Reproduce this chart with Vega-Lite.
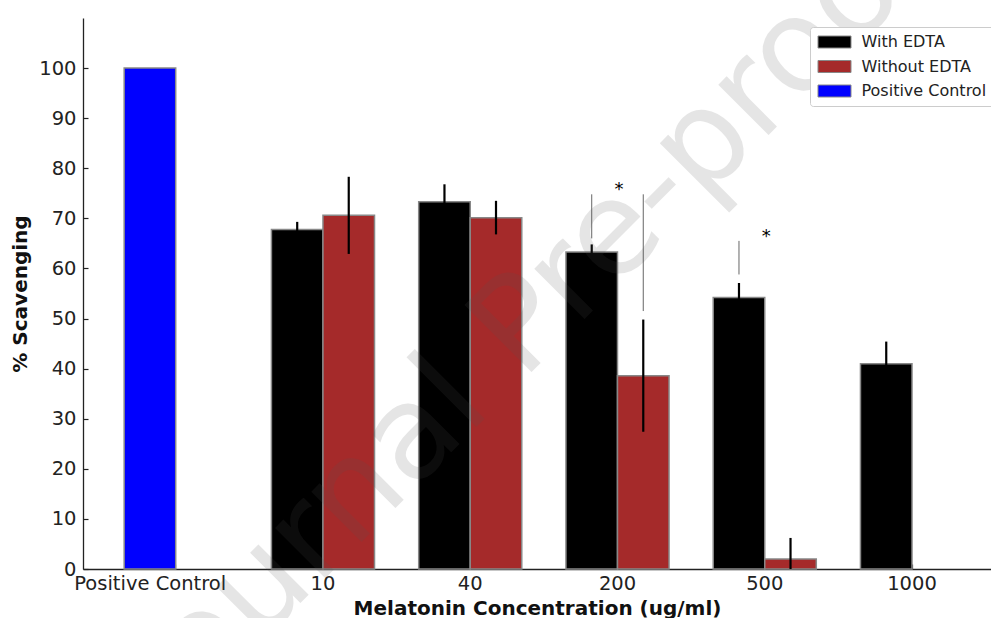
{
  "$schema": "https://vega.github.io/schema/vega-lite/v6.json",
  "width": 908,
  "height": 551,
  "autosize": {"type": "none"},
  "padding": {"left": 83, "top": 18, "right": 0, "bottom": 49},
  "background": "white",
  "config": {
    "view": {"stroke": null},
    "font": "DejaVu Sans",
    "axis": {
      "grid": false,
      "domainColor": "#222222",
      "domainWidth": 1.3,
      "tickColor": "#222222",
      "tickWidth": 1.2,
      "tickSize": -5,
      "labelFont": "DejaVu Sans",
      "labelFontSize": 19.5,
      "labelColor": "#222222",
      "titleFont": "DejaVu Sans",
      "titleFontSize": 20,
      "titleFontWeight": "bold",
      "titleColor": "#111111"
    },
    "axisY": {"labelPadding": 12, "titlePadding": 8},
    "axisX": {"labelAngle": 0, "labelPadding": 10, "titlePadding": 6},
    "legend": {
      "orient": "none",
      "legendX": 727,
      "legendY": 9,
      "title": null,
      "symbolType": "M-2.75,-1H2.75V1H-2.75Z",
      "symbolSize": 144,
      "symbolStrokeColor": "#888888",
      "symbolStrokeWidth": 1,
      "symbolOpacity": 1,
      "symbolOffset": 9.5,
      "labelFont": "DejaVu Sans",
      "labelFontSize": 16,
      "labelColor": "#222222",
      "labelOffset": 19,
      "strokeColor": "#cccccc",
      "fillColor": "white",
      "padding": 7,
      "cornerRadius": 3,
      "rowPadding": 8.5
    }
  },
  "datasets": {
    "bars": [
      {"conc": "10", "series": "With EDTA", "value": 67.8},
      {"conc": "10", "series": "Without EDTA", "value": 70.6},
      {"conc": "40", "series": "With EDTA", "value": 73.3},
      {"conc": "40", "series": "Without EDTA", "value": 70.1},
      {"conc": "200", "series": "With EDTA", "value": 63.3},
      {"conc": "200", "series": "Without EDTA", "value": 38.6},
      {"conc": "500", "series": "With EDTA", "value": 54.2},
      {"conc": "500", "series": "Without EDTA", "value": 2.0},
      {"conc": "1000", "series": "With EDTA", "value": 41.0}
    ],
    "control": [
      {"conc": "Positive Control", "series": "Positive Control", "value": 100}
    ],
    "errors": [
      {"conc": "10", "series": "With EDTA", "lo": 66.3, "hi": 69.3},
      {"conc": "10", "series": "Without EDTA", "lo": 62.9, "hi": 78.3},
      {"conc": "40", "series": "With EDTA", "lo": 69.8, "hi": 76.8},
      {"conc": "40", "series": "Without EDTA", "lo": 66.8, "hi": 73.5},
      {"conc": "200", "series": "With EDTA", "lo": 61.8, "hi": 64.8},
      {"conc": "200", "series": "Without EDTA", "lo": 27.4, "hi": 49.8},
      {"conc": "500", "series": "With EDTA", "lo": 51.3, "hi": 57.1},
      {"conc": "500", "series": "Without EDTA", "lo": -2.2, "hi": 6.2},
      {"conc": "1000", "series": "With EDTA", "lo": 36.6, "hi": 45.4}
    ],
    "brackets": [
      {"conc": "200", "series": "With EDTA", "lo": 66.0, "hi": 74.8},
      {"conc": "200", "series": "Without EDTA", "lo": 51.5, "hi": 74.8},
      {"conc": "500", "series": "With EDTA", "lo": 58.8, "hi": 65.5}
    ],
    "stars": [
      {"conc": "200", "label": "*", "value": 74.6},
      {"conc": "500", "label": "*", "value": 65.3}
    ],
    "watermark": [
      {"text": "Journal Pre-proof"}
    ]
  },
  "layer": [
    {
      "data": {"name": "bars"},
      "mark": {"type": "bar", "stroke": "#888888", "strokeWidth": 1.5},
      "encoding": {
        "x": {
          "field": "conc",
          "type": "nominal",
          "title": "Melatonin Concentration (ug/ml)",
          "scale": {
            "domain": ["Positive Control", "10", "40", "200", "500", "1000"],
            "paddingInner": 0.3,
            "paddingOuter": 0.233,
            "align": 0.6
          },
          "axis": {
            "labelOffset": {
              "condition": {"test": "datum.value == 'Positive Control'", "value": -25.5},
              "value": 0
            }
          }
        },
        "xOffset": {
          "field": "series",
          "scale": {"domain": ["With EDTA", "Without EDTA"], "paddingInner": 0, "paddingOuter": 0}
        },
        "y": {
          "field": "value",
          "type": "quantitative",
          "title": "% Scavenging",
          "scale": {"domain": [0, 110], "nice": false},
          "axis": {"values": [0, 10, 20, 30, 40, 50, 60, 70, 80, 90, 100]}
        },
        "color": {
          "field": "series",
          "type": "nominal",
          "scale": {
            "domain": ["With EDTA", "Without EDTA", "Positive Control"],
            "range": ["#000000", "#a52a2a", "#0000ff"]
          }
        }
      }
    },
    {
      "data": {"name": "control"},
      "mark": {"type": "bar", "stroke": "#888888", "strokeWidth": 1.5},
      "encoding": {
        "x": {"field": "conc", "type": "nominal", "title": "Melatonin Concentration (ug/ml)"},
        "xOffset": {"datum": "With EDTA"},
        "y": {"field": "value", "type": "quantitative", "title": "% Scavenging"},
        "color": {"field": "series", "type": "nominal"}
      }
    },
    {
      "data": {"name": "errors"},
      "mark": {"type": "rule", "color": "#000000", "strokeWidth": 2.2, "clip": true},
      "encoding": {
        "x": {"field": "conc", "type": "nominal", "title": "Melatonin Concentration (ug/ml)"},
        "xOffset": {"field": "series"},
        "y": {"field": "lo", "type": "quantitative", "title": "% Scavenging"},
        "y2": {"field": "hi"}
      }
    },
    {
      "data": {"name": "brackets"},
      "mark": {"type": "rule", "color": "#666666", "strokeWidth": 1},
      "encoding": {
        "x": {"field": "conc", "type": "nominal", "title": "Melatonin Concentration (ug/ml)"},
        "xOffset": {"field": "series"},
        "y": {"field": "lo", "type": "quantitative", "title": "% Scavenging"},
        "y2": {"field": "hi"}
      }
    },
    {
      "data": {"name": "stars"},
      "mark": {"type": "text", "fontSize": 18, "color": "#000000", "baseline": "alphabetic", "align": "center", "dx": 1.5},
      "encoding": {
        "x": {"field": "conc", "type": "nominal", "title": "Melatonin Concentration (ug/ml)"},
        "y": {"field": "value", "type": "quantitative", "title": "% Scavenging"},
        "text": {"field": "label"}
      }
    },
    {
      "data": {"name": "watermark"},
      "mark": {
        "type": "text",
        "font": "DejaVu Sans",
        "fontSize": 130,
        "angle": -45,
        "align": "center",
        "baseline": "alphabetic",
        "color": "#555555",
        "opacity": 0.15,
        "dx": -84
      },
      "encoding": {
        "x": {"datum": "200", "type": "nominal"},
        "y": {"datum": 56.5, "type": "quantitative"},
        "text": {"field": "text"}
      }
    }
  ]
}
